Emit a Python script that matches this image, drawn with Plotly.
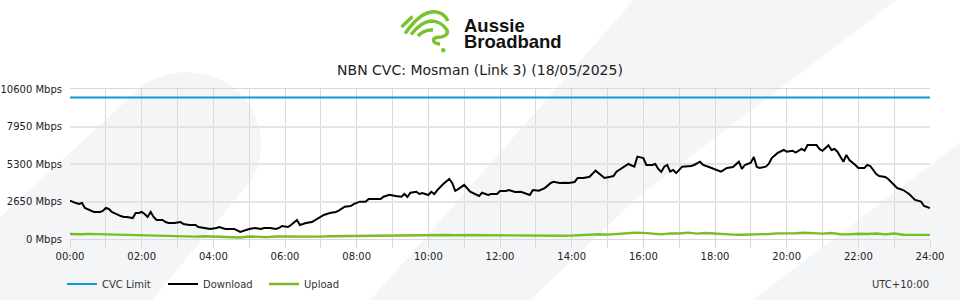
import plotly.graph_objects as go

# ---------------- data ----------------
dl_times = ["00:00","00:05","00:10","00:15","00:20","00:25","00:35","00:40","00:50","00:55",
            "01:00","01:05","01:10","01:20","01:25","01:30","01:35","01:45","01:50","01:55",
            "02:00","02:05","02:10","02:15","02:20","02:25","02:35","02:40","02:45","02:55",
            "03:05","03:10","03:20","03:30","03:35","03:45","03:55","04:05","04:10","04:20",
            "04:30","04:35","04:45","04:55","05:00","05:10","05:20","05:25","05:35","05:45",
            "05:50","05:55","06:05","06:10","06:20","06:25","06:30","06:35","06:45","06:55",
            "07:05","07:15","07:25","07:30","07:40","07:50","07:55","08:05","08:15","08:20",
            "08:30","08:40","08:45","08:55","09:05","09:15","09:20","09:25","09:30","09:40",
            "09:45","09:50","10:00","10:05","10:10","10:15","10:25","10:35","10:40","10:45",
            "10:50","11:00","11:10","11:20","11:25","11:30","11:40","11:45","11:55","12:00",
            "12:10","12:15","12:25","12:35","12:40","12:50","12:55","13:00","13:05","13:15",
            "13:25","13:30","13:40","13:50","13:55","14:05","14:10","14:20","14:30","14:40",
            "14:50","14:55","15:05","15:10","15:15","15:25","15:35","15:45","15:50","16:00",
            "16:05","16:15","16:20","16:25","16:30","16:35","16:40","16:45","16:50","16:55",
            "17:05","17:20","17:25","17:35","17:40","17:50","17:55","18:05","18:10","18:20",
            "18:30","18:40","18:45","18:50","19:00","19:05","19:10","19:15","19:25","19:30",
            "19:35","19:45","19:55","20:00","20:10","20:15","20:25","20:30","20:35","20:50",
            "20:55","21:00","21:10","21:15","21:20","21:25","21:35","21:40","21:45","21:55",
            "22:00","22:10","22:15","22:20","22:30","22:35","22:45","22:50","23:00","23:05",
            "23:15","23:25","23:35","23:45","23:50","24:00"]
dl_values = [2710,2610,2540,2470,2540,2190,1980,1910,1910,1980,
             2190,2120,1910,1700,1620,1560,1560,1480,1840,1840,
             1910,1770,1560,1910,1560,1340,1340,1200,1130,1130,
             1200,1060,990,990,850,780,710,780,850,710,
             710,710,500,640,710,780,710,780,780,710,
             780,920,850,990,1340,990,1060,1130,1200,1480,
             1700,1840,1910,2000,2280,2330,2470,2640,2640,2830,
             2830,2830,2990,3130,3040,2990,3180,2970,3270,3340,
             3180,3250,3110,3340,3180,3460,3890,4240,3960,3410,
             3530,3820,3340,3110,3040,3270,3110,3180,3180,3390,
             3390,3460,3320,3340,3270,3110,3460,3460,3410,3600,
             3960,4050,3960,3980,3960,4030,4310,4310,4400,4830,
             4520,4310,4400,4450,4760,5020,5300,5110,5820,5720,
             5230,5230,5300,4950,4740,5110,5230,4760,4880,4660,
             5110,5160,5230,5460,5230,5090,5020,4830,4760,5020,
             5090,5460,4950,5230,5390,5790,5090,5020,5110,5300,
             5720,6080,6290,6170,6240,6100,6360,6240,6640,6640,
             6360,6240,6620,6290,6360,6170,5460,5940,5580,5230,
             5020,5020,5230,5160,4590,4450,4380,4240,3820,3600,
             3460,3180,2760,2640,2330,2190]

ul_times = ["00:00","00:10","00:20","00:30","00:40","00:50","01:00","01:10","01:20","01:30",
            "01:40","01:50","02:00","02:15","02:30","02:45","03:00","03:15","03:30","03:45",
            "04:00","04:15","04:30","04:45","05:00","05:15","05:30","05:45","06:00","06:15",
            "06:30","06:45","07:00","07:15","07:30","07:45","08:00","08:15","08:30","08:45",
            "09:00","09:15","09:30","09:45","10:00","10:15","10:30","10:45","11:00","11:15",
            "11:30","11:45","12:00","12:15","12:30","12:45","13:00","13:15","13:30","13:45",
            "14:00","14:15","14:30","14:45","15:00","15:15","15:30","15:45","16:00","16:15",
            "16:30","16:45","17:00","17:15","17:30","17:45","18:00","18:15","18:30","18:45",
            "19:00","19:15","19:30","19:45","20:00","20:15","20:30","20:45","21:00","21:15",
            "21:30","21:45","22:00","22:15","22:30","22:45","23:00","23:15","23:30","23:45",
            "24:00"]
ul_values = [350,330,340,360,350,300,310,330,280,300,
             260,280,230,220,230,220,180,200,170,190,
             180,180,170,110,180,170,130,180,170,190,
             160,180,170,190,200,180,190,220,210,230,
             250,240,260,250,270,260,280,270,300,280,
             270,260,250,270,260,250,260,250,240,230,
             240,290,300,340,310,370,380,440,430,380,
             330,400,390,450,380,420,370,360,310,300,
             310,290,350,400,390,410,440,400,380,420,
             340,330,370,350,390,330,390,300,290,290,
             290]

cvc_times = ["00:00", "24:00"]
cvc_values = [10000, 10000]

y_ticks = [0, 2650, 5300, 7950, 10600]
y_ticktext = [f"{v} Mbps" for v in y_ticks]
x_ticks = list(range(0, 25, 2))
x_ticktext = [f"{h:02d}:00" for h in x_ticks]

def to_hours(ts):
    out = []
    for t in ts:
        h, m = t.split(":")
        out.append(int(h) + int(m) / 60.0)
    return out

# ---------------- layout helpers (pixel -> paper) ----------------
L, R, T, B = 70, 930, 89, 239
def px(x, y):
    return (x - L) / (R - L), (B - y) / (B - T)

def path_from(cmds):
    s = ""
    for c in cmds:
        if isinstance(c, str):
            s += c + " "
        else:
            x, y = px(*c)
            s += f"{x:.5f},{y:.5f} "
    return s.strip()

GRAY = "#f4f5f7"
shapes = []
# left rounded band
shapes.append(dict(type="path", xref="paper", yref="paper", layer="below",
                   fillcolor=GRAY, line=dict(width=0),
                   path=path_from(["M", (-5, 222), "L", (140, 88), "C", (175, 60), (235, 70), (255, 115),
                                   "C", (265, 140), (262, 165), (250, 182), "L", (148, 305),
                                   "L", (-5, 305), "Z"])))
# middle diagonal band
shapes.append(dict(type="path", xref="paper", yref="paper", layer="below",
                   fillcolor=GRAY, line=dict(width=0),
                   path=path_from(["M", (366, 305), "L", (638, -5), "L", (903, -5), "L", (640, 195),
                                   "L", (525, 305), "Z"])))
# bottom-right triangle
shapes.append(dict(type="path", xref="paper", yref="paper", layer="below",
                   fillcolor=GRAY, line=dict(width=0),
                   path=path_from(["M", (746, 305), "L", (965, 139), "L", (965, 305), "Z"])))

# logo icon
LOGO_GREEN = "#78c22c"
icon_paths = [
    ["M", (401.5, 27), "L", (412.5, 16.5)],
    ["M", (405, 33.5), "C", (412, 24), (420, 14), (431, 12), "C", (439, 11), (445, 15), (448, 21)],
    ["M", (411, 34.5), "C", (417, 27), (423, 21.5), (431, 21), "C", (438, 21), (444, 25), (447, 30),
     "C", (449, 35), (443, 37.5), (437, 37.5), "C", (431, 38), (433, 44), (440, 44)],
    ["M", (418, 36), "C", (422, 31.5), (427, 29.5), (433, 30)],
]
for p in icon_paths:
    shapes.append(dict(type="path", xref="paper", yref="paper", layer="above",
                       line=dict(color=LOGO_GREEN, width=3.4), path=path_from(p)))
cx0, cy0 = px(441, 48)
cx1, cy1 = px(445.5, 52.5)
shapes.append(dict(type="circle", xref="paper", yref="paper", layer="above",
                   x0=cx0, y0=cy1, x1=cx1, y1=cy0, fillcolor=LOGO_GREEN, line=dict(width=0)))

# ---------------- figure ----------------
FONT = "DejaVu Sans"
fig = go.Figure()
fig.add_trace(go.Scatter(x=to_hours(cvc_times), y=cvc_values, mode="lines", name="CVC Limit",
                         line=dict(color="#119ad8", width=2), hoverinfo="skip"))
fig.add_trace(go.Scatter(x=to_hours(dl_times), y=dl_values, mode="lines", name="Download",
                         line=dict(color="#000000", width=2)))
fig.add_trace(go.Scatter(x=to_hours(ul_times), y=ul_values, mode="lines", name="Upload",
                         line=dict(color="#78bd25", width=2.4)))

ann = []
lx, ly = px(462, 24.5)
ann.append(dict(xref="paper", yref="paper", x=lx, y=ly, xanchor="left", yanchor="middle",
                text="<b>Aussie</b>", showarrow=False, height=16, valign="middle",
                font=dict(family="Liberation Sans", size=18.5, color="#111111")))
lx, ly = px(462, 41)
ann.append(dict(xref="paper", yref="paper", x=lx, y=ly, xanchor="left", yanchor="middle",
                text="<b>Broadband</b>", showarrow=False, height=16, valign="middle",
                font=dict(family="Liberation Sans", size=18.5, color="#111111")))
ux, uy = px(931, 284)
ann.append(dict(xref="paper", yref="paper", x=ux, y=uy, xanchor="right", yanchor="middle",
                text="UTC+10:00", showarrow=False,
                font=dict(family=FONT, size=10, color="#333333")))

fig.update_layout(
    width=960, height=300, autosize=False,
    margin=dict(l=L, r=960 - R, t=T, b=300 - B, pad=0),
    paper_bgcolor="#ffffff", plot_bgcolor="rgba(0,0,0,0)",
    font=dict(family=FONT, size=10, color="#333333"),
    title=dict(text="NBN CVC: Mosman (Link 3) (18/05/2025)", x=0.5, xref="container",
               xanchor="center", y=1 - 70 / 300, yref="container", yanchor="middle",
               font=dict(family=FONT, size=14, color="#222222")),
    showlegend=True,
    legend=dict(orientation="h", xref="container", yref="container",
                x=62 / 960, xanchor="left", y=1 - 284 / 300, yanchor="middle",
                font=dict(family=FONT, size=10, color="#333333"), bgcolor="rgba(0,0,0,0)",
                itemwidth=30, tracegroupgap=0, entrywidth=56, entrywidthmode="pixels"),
    shapes=shapes, annotations=ann,
    hovermode=False,
)
fig.update_xaxes(range=[0, 24], tickmode="array", tickvals=x_ticks, ticktext=x_ticktext,
                 automargin=False,
                 showgrid=True, gridcolor="#d9d9d9", gridwidth=1,
                 ticks="outside", ticklen=8, tickcolor="#d9d9d9", tickwidth=1,
                 minor=dict(tickmode="linear", tick0=0, dtick=1, showgrid=True, gridcolor="#d9d9d9",
                            gridwidth=1, ticks="outside", ticklen=8, tickcolor="#d9d9d9"),
                 showline=True, linecolor="#d9d9d9", linewidth=1, mirror=True,
                 zeroline=False, tickfont=dict(family=FONT, size=10, color="#222222"), fixedrange=True)
fig.update_yaxes(range=[0, 10600], tickmode="array", tickvals=y_ticks, ticktext=y_ticktext,
                 automargin=False,
                 showgrid=True, gridcolor="#e4e4e4", gridwidth=2,
                 ticks="outside", ticklen=5, tickcolor="rgba(0,0,0,0)",
                 showline=False, zeroline=False,
                 tickfont=dict(family=FONT, size=10, color="#222222"), fixedrange=True)

fig.write_html("out.html")
